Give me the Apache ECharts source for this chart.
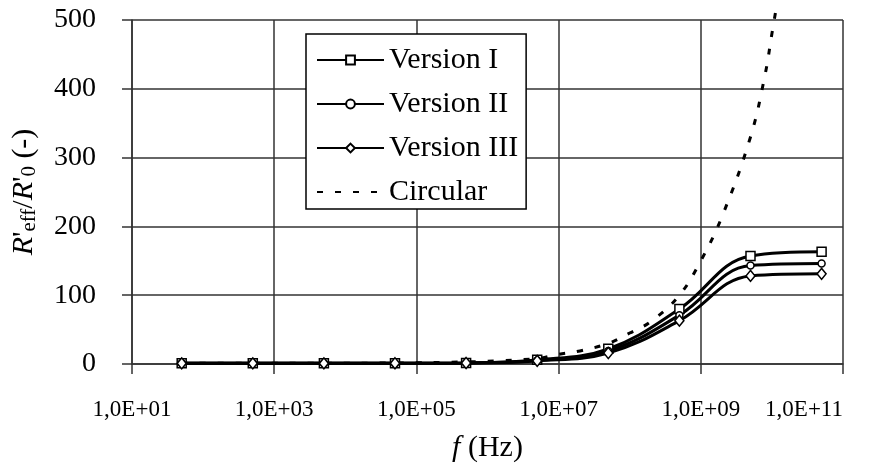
<!DOCTYPE html>
<html>
<head>
<meta charset="utf-8">
<script src="https://cdn.jsdelivr.net/npm/echarts@6/dist/echarts.min.js"></script>
<style>
  html, body { margin: 0; padding: 0; background: #fff; }
  #chart { width: 896px; height: 468px; }
</style>
</head>
<body>
<div id="chart"></div>
<script>
// Frequencies (Hz) at which the three conductor versions were evaluated
const freqVersions = [50, 500, 5e3, 5e4, 5e5, 5e6, 5e7, 5e8, 5e9, 5e10];
// Normalised effective resistance R'eff / R'0
const versionI   = [1, 1, 1, 1.1, 1.6, 6, 22, 80, 157, 163];
const versionII  = [1, 1, 1, 1.1, 1.5, 5, 19, 71, 143, 146];
const versionIII = [1, 1, 1, 1.1, 1.4, 4.5, 16, 63, 128, 131];

// Circular conductor reference curve
const freqCircular = [50, 500, 5e3, 5e4, 5e5, 1e6, 5e6, 1e7, 2e7, 5e7, 1e8, 2e8, 5e8, 1e9, 2e9, 5e9, 8e9, 1e10, 1.12e10];
const circular     = [1, 1, 1.05, 1.5, 3, 4, 8, 14, 19, 30, 45, 62, 100, 150, 215, 330, 420, 480, 510];

const seriesNames = ['Version I', 'Version II', 'Version III', 'Circular'];
const yTicks = [0, 100, 200, 300, 400, 500];

const pairs = (xs, ys) => xs.map((x, i) => [x, ys[i]]);

const serif = '"Liberation Serif", "Times New Roman", serif';
const black = '#000';
const gridColor = '#333';

function versionSeries(name, values, symbol, size) {
  return {
    name: name,
    type: 'line',
    data: pairs(freqVersions, values),
    smooth: 0.4,
    symbol: symbol,
    symbolSize: size,
    showAllSymbol: true,
    lineStyle: { color: black, width: 3 },
    itemStyle: { color: '#fff', borderColor: black, borderWidth: 1.5 },
    z: 3
  };
}

const chart = echarts.init(document.getElementById('chart'), null, { renderer: 'canvas' });

chart.setOption({
  animation: false,
  backgroundColor: '#fff',
  textStyle: { fontFamily: serif, color: black },
  grid: { left: 132, right: 53, top: 20, bottom: 104, containLabel: false, outerBoundsMode: 'none' },
  legend: {
    // the dashed curve has no marker, so its legend symbol is hidden
    data: [
      seriesNames[0], seriesNames[1], seriesNames[2],
      { name: seriesNames[3], itemStyle: { color: 'rgba(0,0,0,0)', borderColor: 'rgba(0,0,0,0)', borderWidth: 0 } }
    ],
    orient: 'vertical',
    left: 306,
    top: 34,
    itemWidth: 67,
    itemHeight: 11,
    itemGap: 14,
    padding: [11, 8, 2, 10],
    backgroundColor: '#fff',
    borderColor: black,
    borderWidth: 1.5,
    textStyle: { fontFamily: serif, fontSize: 30, color: black }
  },
  xAxis: {
    type: 'log',
    logBase: 10,
    min: 10,
    max: 1e11,
    interval: 2,
    name: '{i|f}{n| (Hz)}',
    nameLocation: 'middle',
    nameGap: 69,
    nameTextStyle: {
      rich: {
        i: { fontFamily: serif, fontSize: 30, fontStyle: 'italic', color: black },
        n: { fontFamily: serif, fontSize: 30, color: black }
      }
    },
    axisLine: { show: true, onZero: false, lineStyle: { color: gridColor, width: 1.5 } },
    axisTick: { show: true, length: 10, inside: false, lineStyle: { color: gridColor, width: 1.5 } },
    minorTick: { show: false },
    splitLine: { show: true, lineStyle: { color: gridColor, width: 1.5 } },
    axisLabel: {
      margin: 34,
      fontFamily: serif,
      fontSize: 23,
      color: black,
      alignMaxLabel: 'right',
      formatter: function (v) {
        const e = Math.round(Math.log10(v));
        return '1,0E+' + (e < 10 ? '0' + e : '' + e);
      }
    }
  },
  yAxis: {
    type: 'value',
    min: yTicks[0],
    max: yTicks[yTicks.length - 1],
    interval: yTicks[1] - yTicks[0],
    name: "{i|R}{n|'}{s|eff}{n|/}{i|R}{n|'}{s|0}{n| (-)}",
    nameLocation: 'middle',
    nameRotate: 90,
    nameGap: 92,
    nameTextStyle: {
      rich: {
        i: { fontFamily: serif, fontSize: 30, fontStyle: 'italic', color: black, lineHeight: 32 },
        n: { fontFamily: serif, fontSize: 30, color: black, lineHeight: 32 },
        s: { fontFamily: serif, fontSize: 21, color: black, lineHeight: 32, verticalAlign: 'bottom' }
      }
    },
    axisLine: { show: true, lineStyle: { color: gridColor, width: 1.5 } },
    axisTick: { show: true, length: 10, inside: false, lineStyle: { color: gridColor, width: 1.5 } },
    splitLine: { show: true, lineStyle: { color: gridColor, width: 1.5 } },
    axisLabel: { margin: 36, fontFamily: serif, fontSize: 28, color: black }
  },
  series: [
    versionSeries(seriesNames[0], versionI, 'rect', 9),
    versionSeries(seriesNames[1], versionII, 'circle', 7),
    versionSeries(seriesNames[2], versionIII, 'diamond', [9, 11]),
    {
      name: seriesNames[3],
      type: 'line',
      data: pairs(freqCircular, circular),
      smooth: 0.4,
      showSymbol: false,
      symbol: 'none',
      clip: false,
      lineStyle: { color: black, width: 3, type: [6, 12] },
      itemStyle: { color: black },
      z: 2
    }
  ]
});
</script>
</body>
</html>
